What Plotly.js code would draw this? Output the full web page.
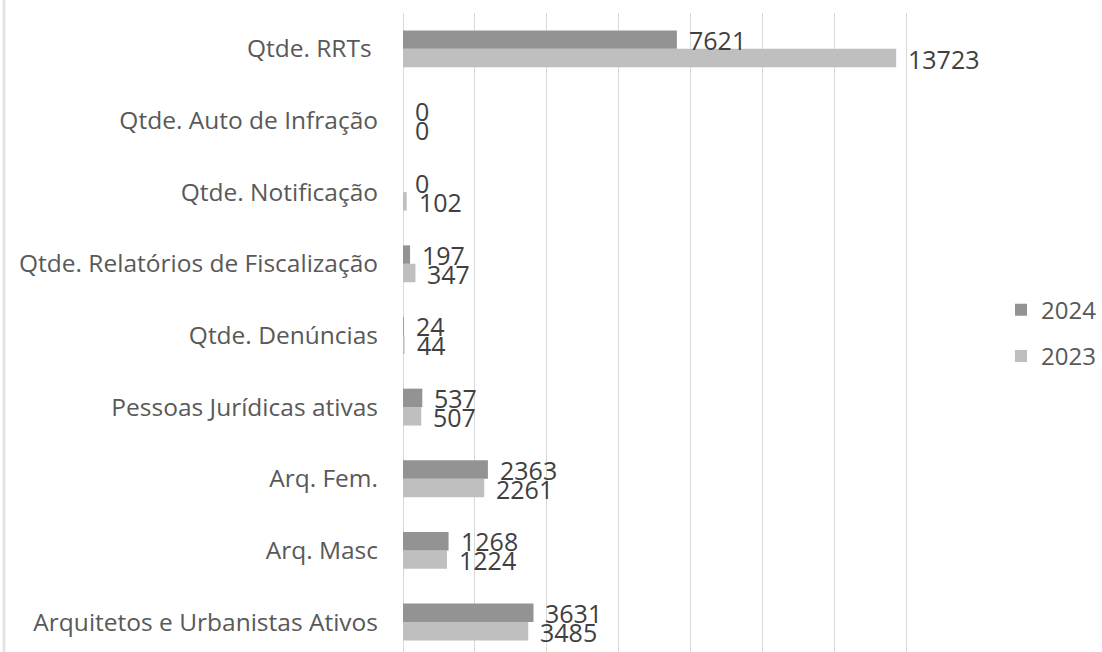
<!DOCTYPE html>
<html>
<head>
<meta charset="utf-8">
<script src="https://cdn.plot.ly/plotly-3.0.1.min.js"></script>
<style>html,body{margin:0;padding:0;background:#fff;}#chart{width:1102px;height:652px;}</style>
</head>
<body>
<div id="chart"></div>
<script>
var categories = ["Arquitetos e Urbanistas Ativos", "Arq. Masc", "Arq. Fem.", "Pessoas Jurídicas ativas", "Qtde. Denúncias", "Qtde. Relatórios de Fiscalização", "Qtde. Notificação", "Qtde. Auto de Infração", "Qtde. RRTs "];
var values2024 = [3631, 1268, 2363, 537, 24, 197, 0, 0, 7621];
var values2023 = [3485, 1224, 2261, 507, 44, 347, 102, 0, 13723];
var seriesNames = ["2023", "2024"];
var xTicks = [0, 2000, 4000, 6000, 8000, 10000, 12000, 14000, 16000];

var FONT = "Open Sans, Noto Sans, sans-serif";
var c2024 = "#939393", c2023 = "#bfbfbf";

var traces = [
  {type: "bar", orientation: "h", name: seriesNames[0], y: categories, x: values2023,
   marker: {color: c2023}, legendgroup: "a", legendrank: 2, hoverinfo: "x"},
  {type: "bar", orientation: "h", name: seriesNames[1], y: categories, x: values2024,
   marker: {color: c2024}, legendgroup: "b", legendrank: 1, hoverinfo: "x"}
];

var annotations = [];
function addLabels(vals, ys) {
  for (var i = 0; i < vals.length; i++) {
    annotations.push({
      x: vals[i], y: categories[i], xref: "x", yref: "y",
      text: String(vals[i]), showarrow: false,
      xanchor: "left", yanchor: "middle", xshift: 10, yshift: ys,
      font: {family: FONT, size: 25, color: "#404040"}
    });
  }
}
addLabels(values2024, 9);
addLabels(values2023, -9.8);

var layout = {
  width: 1102, height: 652,
  margin: {l: 403, r: 120, t: 13, b: 0, pad: 0},
  paper_bgcolor: "#ffffff", plot_bgcolor: "#ffffff",
  barmode: "group", bargap: 0.485, bargroupgap: 0,
  font: {family: FONT, color: "#595959"},
  xaxis: {range: [0, 16000], tickvals: xTicks, showticklabels: false, showgrid: true,
          gridcolor: "#d9d9d9", gridwidth: 1, zeroline: true, zerolinecolor: "#d9d9d9",
          zerolinewidth: 1, showline: false, fixedrange: true},
  yaxis: {type: "category", range: [-0.418, 8.5], showgrid: false, zeroline: false,
          showline: false, ticks: "", ticklabelstandoff: 24,
          tickfont: {family: FONT, size: 24.5, color: "#595959"}, fixedrange: true},
  legend: {x: 1.04, xanchor: "left", y: 0.499, yanchor: "middle",
           traceorder: "grouped", tracegroupgap: 12,
           font: {family: FONT, size: 24, color: "#595959"}, itemwidth: 30,
           bgcolor: "rgba(0,0,0,0)"},
  annotations: annotations,
  shapes: [{type: "line", xref: "paper", yref: "paper", x0: -0.694, x1: -0.694, y0: -0.1, y1: 1.1,
            line: {color: "#e4e4e4", width: 3}}],
  showlegend: true
};

Plotly.newPlot("chart", traces, layout, {displayModeBar: false, staticPlot: true});
</script>
</body>
</html>
